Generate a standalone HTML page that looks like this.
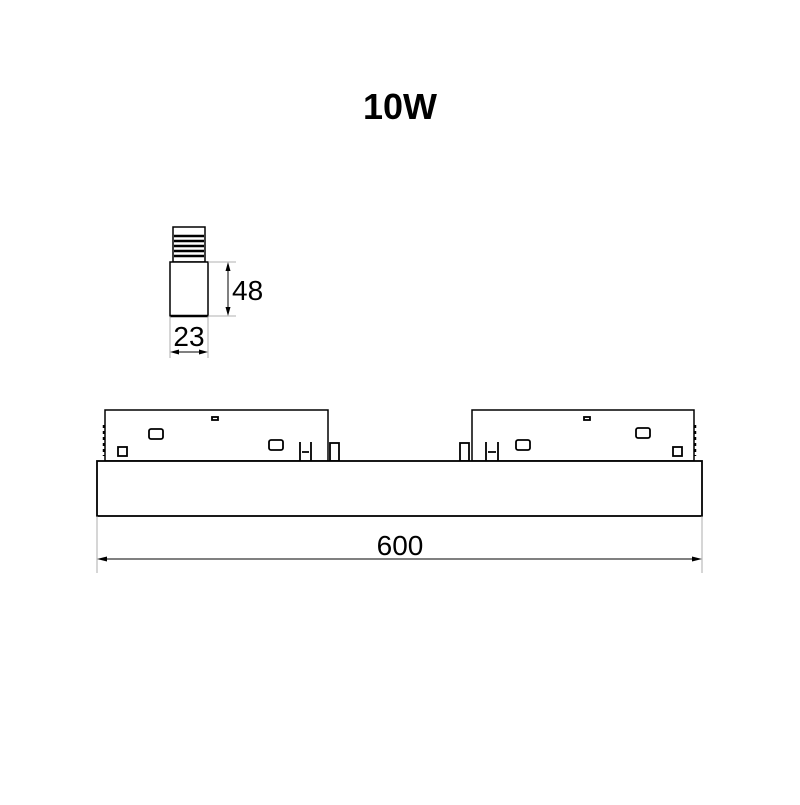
<!DOCTYPE html>
<html><head><style>body{margin:0;background:#fff}</style></head><body>
<svg width="800" height="800" xmlns="http://www.w3.org/2000/svg" font-family="Liberation Sans, sans-serif">
<text x="400" y="119" font-size="36" font-weight="bold" text-anchor="middle">10W</text>
<!-- small module -->
<rect x="173" y="227" width="32" height="35" fill="#fff" stroke="#000" stroke-width="1.5"/>
<g stroke="#000" stroke-width="2.5">
<line x1="174" y1="236" x2="204" y2="236"/><line x1="174" y1="241" x2="204" y2="241"/>
<line x1="174" y1="246" x2="204" y2="246"/><line x1="174" y1="251" x2="204" y2="251"/>
<line x1="174" y1="256" x2="204" y2="256"/></g>
<rect x="170" y="262" width="38" height="54" fill="#fff" stroke="#000" stroke-width="1.5"/>
<line x1="170" y1="316" x2="208" y2="316" stroke="#000" stroke-width="2.5"/>
<g stroke="#999" stroke-width="0.8"><line x1="208" y1="262" x2="236" y2="262"/><line x1="208" y1="316" x2="236" y2="316"/>
<line x1="170" y1="316" x2="170" y2="358"/><line x1="208" y1="316" x2="208" y2="358"/></g>
<line x1="228" y1="264" x2="228" y2="314" stroke="#000" stroke-width="1"/>
<path d="M225.5,271 L228,262 L230.5,271 Z M225.5,307 L228,316 L230.5,307 Z" fill="#000"/>
<line x1="172" y1="352" x2="206" y2="352" stroke="#000"/>
<path d="M179,349.5 L170,352 L179,354.5 Z M199,349.5 L208,352 L199,354.5 Z" fill="#000"/>
<text x="232" y="300" font-size="28">48</text>
<text x="189" y="346" font-size="28" text-anchor="middle">23</text>
<!-- boxes -->
<rect x="105" y="410" width="223" height="51" fill="#fff" stroke="#000" stroke-width="1.5"/>
<rect x="472" y="410" width="222" height="51" fill="#fff" stroke="#000" stroke-width="1.5"/>
<g fill="none" stroke="#000" stroke-width="1.8">
<rect x="118" y="447" width="9" height="9"/><rect x="673" y="447" width="9" height="9"/>
<rect x="149" y="429" width="14" height="10" rx="2"/><rect x="269" y="440" width="14" height="10" rx="2"/>
<rect x="516" y="440" width="14" height="10" rx="2"/><rect x="636" y="428" width="14" height="10" rx="2"/>
<rect x="212" y="417" width="6" height="3"/><rect x="584" y="417" width="6" height="3"/>
<path d="M300,461 V442 M311,461 V442 M302,452 H309"/>
<rect x="330" y="443" width="9" height="18"/>
<path d="M486,461 V442 M498,461 V442 M488,452 H496"/>
<rect x="460" y="443" width="9" height="18"/>
</g>
<g stroke="#000" stroke-width="2.5"><line x1="104" y1="425" x2="104" y2="456" stroke-dasharray="3,3"/><line x1="695" y1="425" x2="695" y2="456" stroke-dasharray="3,3"/></g>
<rect x="97" y="461" width="605" height="55" fill="#fff" stroke="#000" stroke-width="1.8"/>
<g stroke="#999" stroke-width="0.8"><line x1="97" y1="516" x2="97" y2="573"/><line x1="702" y1="516" x2="702" y2="573"/></g>
<line x1="99" y1="559" x2="700" y2="559" stroke="#000"/>
<path d="M107,556.5 L97,559 L107,561.5 Z M692,556.5 L702,559 L692,561.5 Z" fill="#000"/>
<text x="400" y="555" font-size="28" text-anchor="middle">600</text>
</svg>
</body></html>
